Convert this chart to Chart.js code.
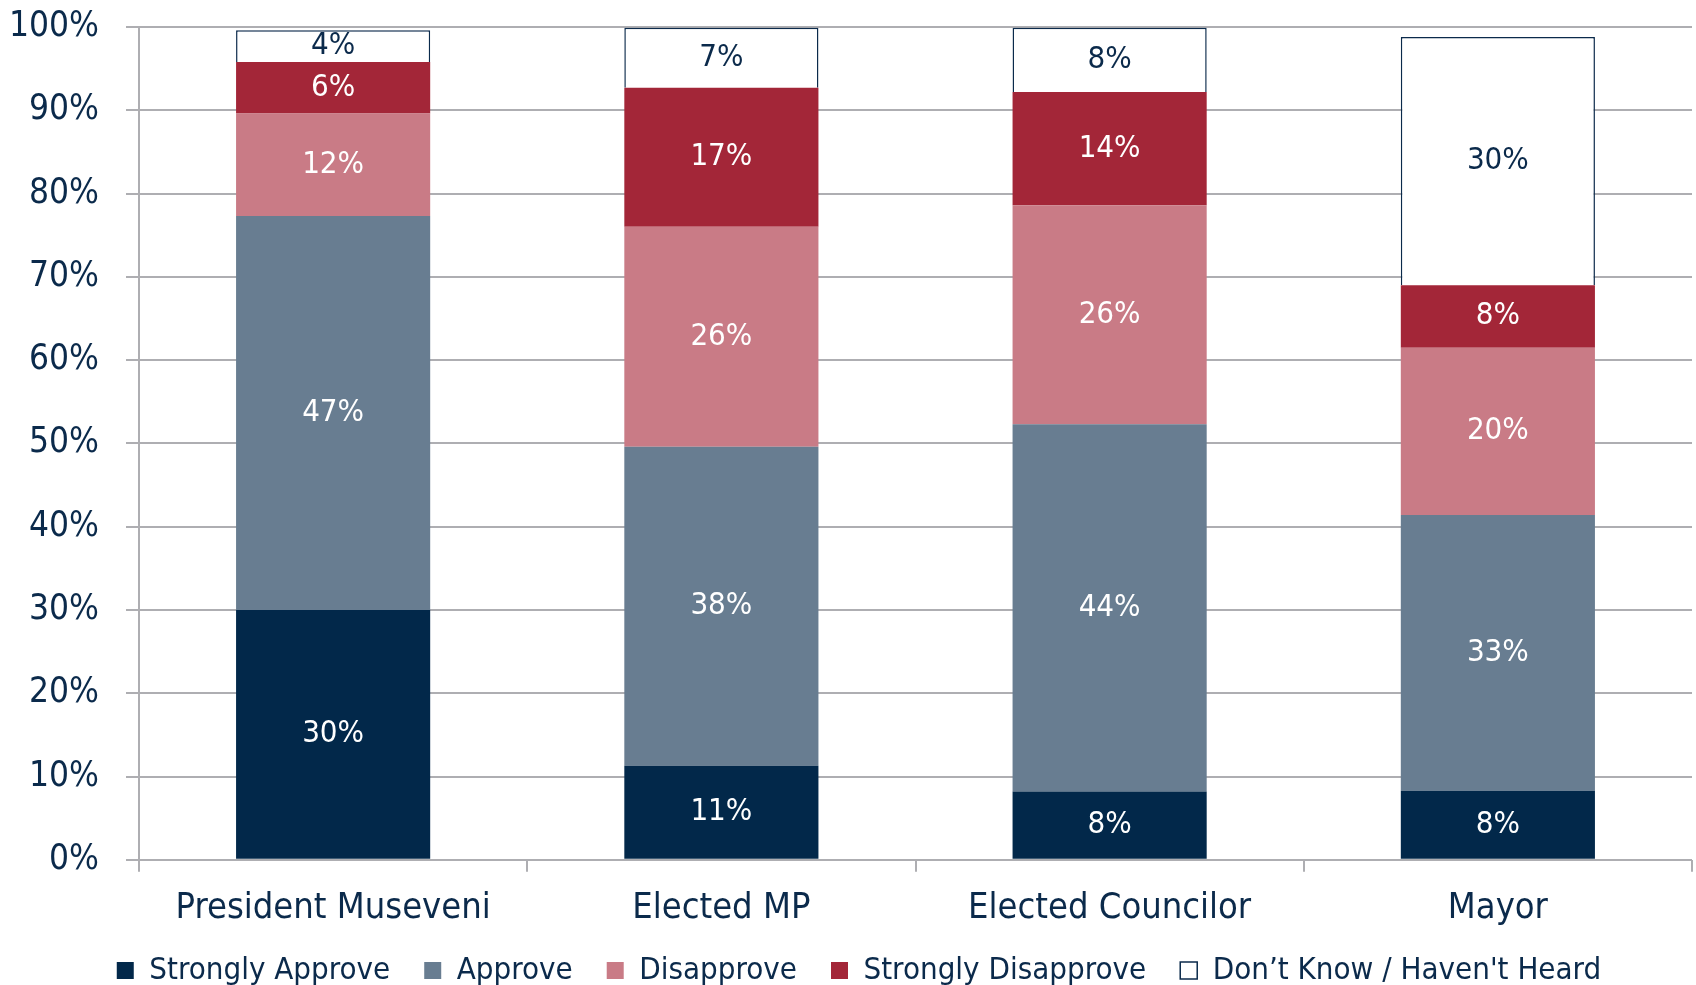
<!DOCTYPE html>
<html>
<head>
<meta charset="utf-8">
<script src="https://cdn.jsdelivr.net/npm/chart.js@4"></script>
<style>
  body { margin: 0; background: #ffffff; }
</style>
</head>
<body>
<canvas id="approvalChart" width="1696" height="985"></canvas>
<script>
  // data (percent of respondents)
  var categories = ["President Museveni", "Elected MP", "Elected Councilor", "Mayor"];
  var stronglyApprove = [30.0, 11.3, 8.2, 8.3];
  var approve = [47.3, 38.3, 44.1, 33.1];
  var disapprove = [12.3, 26.4, 26.3, 20.1];
  var stronglyDisapprove = [6.2, 16.7, 13.6, 7.5];
  var dontKnow = [3.8, 7.2, 7.7, 29.8];
  var yTicks = [0, 10, 20, 30, 40, 50, 60, 70, 80, 90, 100];

  var navy = "#0b2a4b";
  var gridGray = "#aeaeb2";
  var fontFamily = "'DejaVu Sans Condensed', 'DejaVu Sans', sans-serif";

  // draws the % value in the middle of each segment
  var segmentLabels = {
    id: "segmentLabels",
    afterDatasetsDraw: function (chart) {
      var ctx = chart.ctx;
      ctx.save();
      ctx.font = "31px " + fontFamily;
      ctx.textAlign = "center";
      ctx.textBaseline = "middle";
      chart.data.datasets.forEach(function (ds, i) {
        var meta = chart.getDatasetMeta(i);
        meta.data.forEach(function (bar, j) {
          ctx.fillStyle = ds.labelColor;
          var y = (bar.y + bar.base) / 2;
          ctx.fillText(Math.round(ds.data[j]) + "%", bar.x, y);
        });
      });
      ctx.restore();
    },
  };

  // nudge the legend a bit (it sits slightly right of centre and higher in the original)
  var legendNudge = {
    id: "legendNudge",
    afterLayout: function (chart) {
      var lg = chart.legend;
      lg.left += 13;
      lg.right += 13;
      lg.top -= 24;
      lg.bottom -= 24;
    },
  };

  var data = {
    labels: categories,
    datasets: [
      { label: "Strongly Approve", data: stronglyApprove, backgroundColor: "#02284a", labelColor: "#ffffff", borderWidth: 0 },
      { label: "Approve", data: approve, backgroundColor: "#687d91", labelColor: "#ffffff", borderWidth: 0 },
      { label: "Disapprove", data: disapprove, backgroundColor: "#c97b86", labelColor: "#ffffff", borderWidth: 0 },
      { label: "Strongly Disapprove", data: stronglyDisapprove, backgroundColor: "#a32638", labelColor: "#ffffff", borderWidth: 0 },
      { label: "Don\u2019t Know / Haven't Heard", data: dontKnow, backgroundColor: "#ffffff", borderColor: navy, borderWidth: 1.5, labelColor: navy },
    ],
  };

  var ctx = document.getElementById("approvalChart").getContext("2d");

  var approvalChart = new Chart(ctx, {
    type: "bar",
    data: data,
    plugins: [segmentLabels, legendNudge],
    options: {
      responsive: false,
      animation: false,
      layout: { padding: { top: 0, right: 4, bottom: -35, left: 0 } },
      datasets: {
        bar: { barPercentage: 0.5, categoryPercentage: 1.0 },
      },
      scales: {
        x: {
          stacked: true,
          grid: { display: true, drawOnChartArea: false, drawTicks: true, tickLength: 12, color: gridGray, lineWidth: 2 },
          border: { display: false },
          ticks: { color: navy, font: { family: fontFamily, size: 36 }, padding: 15 },
        },
        y: {
          stacked: true,
          min: 0,
          max: 100,
          afterBuildTicks: function (scale) {
            scale.ticks = yTicks.map(function (v) { return { value: v }; });
          },
          afterFit: function (scale) {
            scale.width = 139;
            scale.paddingTop = 27;
            scale.paddingBottom = 0;
          },
          grid: { color: gridGray, lineWidth: 2, tickLength: 13 },
          border: { display: true, color: gridGray, width: 2 },
          ticks: {
            color: navy,
            font: { family: fontFamily, size: 35 },
            padding: 27,
            callback: function (v) { return v + "%"; },
          },
        },
      },
      plugins: {
        legend: {
          display: true,
          position: "bottom",
          labels: {
            color: navy,
            font: { family: fontFamily, size: 31 },
            boxWidth: 17,
            boxHeight: 17,
            padding: 34,
          },
        },
        tooltip: { enabled: false },
      },
    },
  });
</script>
</body>
</html>
